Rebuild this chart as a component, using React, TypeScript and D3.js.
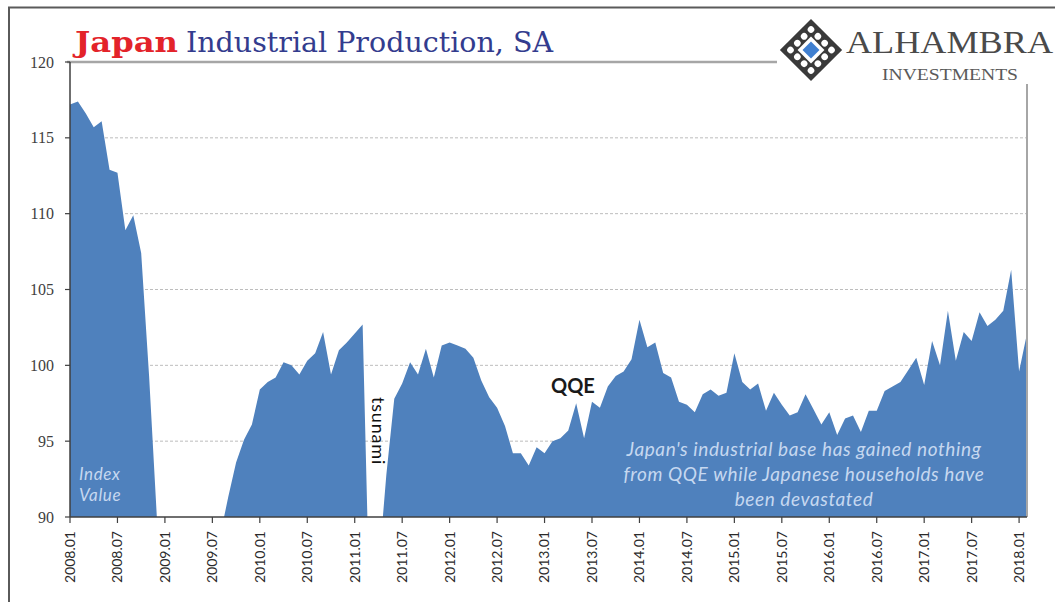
import React from "react";
import * as d3 from "d3";

const W = 1055;
const H = 602;

// Monthly index values, 2008.01 .. 2018.02 (values under 90 fall below the axis floor)
const values2008: number[] = [117.2, 117.4, 116.6, 115.7, 116.1, 112.9, 112.7, 108.9, 109.9, 107.4, 99.3, 89.8];
const values2009: number[] = [84.0, 76.0, 76.5, 79.0, 84.0, 86.0, 87.5, 88.8, 91.3, 93.6, 95.1, 96.1];
const values2010: number[] = [98.4, 98.9, 99.2, 100.2, 100.0, 99.4, 100.3, 100.8, 102.2, 99.4, 101.0, 101.5];
const values2011: number[] = [102.1, 102.7, 81.5, 86.5, 92.8, 97.8, 98.8, 100.2, 99.4, 101.1, 99.2, 101.3];
const values2012: number[] = [101.5, 101.3, 101.1, 100.5, 99.0, 97.9, 97.2, 96.0, 94.2, 94.2, 93.4, 94.6];
const values2013: number[] = [94.2, 95.0, 95.2, 95.7, 97.5, 95.2, 97.6, 97.2, 98.6, 99.3, 99.6, 100.4];
const values2014: number[] = [103.0, 101.2, 101.5, 99.5, 99.2, 97.6, 97.4, 96.9, 98.1, 98.4, 98.0, 98.2];
const values2015: number[] = [100.8, 98.9, 98.4, 98.8, 97.0, 98.2, 97.4, 96.7, 96.9, 98.1, 97.1, 96.1];
const values2016: number[] = [96.9, 95.4, 96.5, 96.7, 95.6, 97.0, 97.0, 98.3, 98.6, 98.9, 99.7, 100.5];
const values2017: number[] = [98.7, 101.6, 100.0, 103.6, 100.3, 102.2, 101.6, 103.5, 102.6, 103.0, 103.6, 106.3];
const values2018: number[] = [99.6, 102.1];

const values: number[] = [
  ...values2008, ...values2009, ...values2010, ...values2011, ...values2012,
  ...values2013, ...values2014, ...values2015, ...values2016, ...values2017, ...values2018,
];

const years: number[] = [2008, 2009, 2010, 2011, 2012, 2013, 2014, 2015, 2016, 2017, 2018];
const monthCodes: string[] = ["01", "02", "03", "04", "05", "06", "07", "08", "09", "10", "11", "12"];
const months: string[] = years
  .flatMap((yr) => monthCodes.map((m) => `${yr}.${m}`))
  .slice(0, values.length);

const xTickLabels: string[] = [
  "2008.01", "2008.07", "2009.01", "2009.07", "2010.01", "2010.07", "2011.01",
  "2011.07", "2012.01", "2012.07", "2013.01", "2013.07", "2014.01", "2014.07",
  "2015.01", "2015.07", "2016.01", "2016.07", "2017.01", "2017.07", "2018.01",
];
const yTicks: number[] = [90, 95, 100, 105, 110, 115, 120];
const gridTicks: number[] = [95, 100, 105, 110, 115];

const noteLines: string[] = [
  "Japan's industrial base has gained nothing",
  "from QQE while Japanese households have",
  "been devastated",
];

export default function App() {
  const left = 70;
  const right = 1027;
  const top = 62;
  const bottom = 517;

  const x = d3.scalePoint<string>().domain(months).range([left, right]);
  const y = d3.scaleLinear().domain([90, 120]).range([bottom, top]);

  const area = d3
    .area<number>()
    .x((_, i) => x(months[i]) as number)
    .y0(y(90))
    .y1((d) => y(d))
    .curve(d3.curveLinear);

  const axisColor = "#3f3f3f";
  const sans = "Lato, 'Open Sans', sans-serif";
  const noteColor = "#c6d8f0";

  // logo hole grid
  const holePos = [-14.5, -4.8, 4.8, 14.5];
  const holes: [number, number][] = [];
  holePos.forEach((a) =>
    holePos.forEach((b) => {
      if (Math.abs(a) < 10 && Math.abs(b) < 10) return;
      holes.push([a, b]);
    })
  );

  return (
    <svg
      width={W}
      height={H}
      viewBox={`0 0 ${W} ${H}`}
      style={{ position: "absolute", left: 0, top: 0, background: "#fff" }}
    >
      <defs>
        <clipPath id="plotClip">
          <rect x={left} y={top} width={right - left} height={bottom - top} />
        </clipPath>
      </defs>
      <rect x={0} y={0} width={W} height={H} fill="#fff" />

      {/* outer frame */}
      <line x1={8} x2={W} y1={7.5} y2={7.5} stroke="#5a5a5a" strokeWidth={2} />
      <line x1={9} x2={9} y1={7} y2={H} stroke="#5a5a5a" strokeWidth={2} />

      {/* gridlines */}
      {gridTicks.map((t) => (
        <line
          key={t}
          x1={left}
          x2={right}
          y1={y(t)}
          y2={y(t)}
          stroke="#bdbdbd"
          strokeWidth={1}
          strokeDasharray="3,2"
        />
      ))}

      {/* area */}
      <path d={area(values) || ""} fill="#4f81bd" clipPath="url(#plotClip)" />

      {/* title underline / top rule */}
      <line x1={67} x2={777} y1={top} y2={top} stroke="#a6a6a6" strokeWidth={2.5} />
      {/* right border */}
      <line x1={right} x2={right} y1={84} y2={bottom} stroke="#a6a6a6" strokeWidth={2} />

      {/* y axis */}
      <line x1={left} x2={left} y1={top} y2={bottom} stroke={axisColor} strokeWidth={1.5} />
      {yTicks.map((t) => (
        <g key={t}>
          <line x1={left - 5} x2={left} y1={y(t)} y2={y(t)} stroke={axisColor} strokeWidth={1.2} />
          <text
            x={54}
            y={y(t)}
            dy="0.35em"
            textAnchor="end"
            fontFamily="'Liberation Serif', 'DejaVu Serif', serif"
            fontSize={16}
            fill="#404040"
          >
            {t}
          </text>
        </g>
      ))}

      {/* x axis */}
      <line x1={left} x2={right} y1={bottom} y2={bottom} stroke={axisColor} strokeWidth={1.5} />
      {xTickLabels.map((lab) => {
        const xx = x(lab) as number;
        return (
          <g key={lab}>
            <line x1={xx} x2={xx} y1={bottom} y2={bottom + 6} stroke={axisColor} strokeWidth={1.2} />
            <text
              transform={`translate(${xx},${bottom + 14}) rotate(-90)`}
              dy="0.35em"
              textAnchor="end"
              fontFamily={sans}
              fontSize={14}
              fill="#2a2a2a"
            >
              {lab}
            </text>
          </g>
        );
      })}

      {/* title */}
      <text
        x={75}
        y={52}
        fontFamily="'DejaVu Serif', 'Liberation Serif', serif"
        fontWeight="bold"
        fontSize={28}
        fill="#e3232a"
        textLength={103}
        lengthAdjust="spacingAndGlyphs"
      >
        Japan
      </text>
      <text
        x={186}
        y={52}
        fontFamily="'DejaVu Serif', 'Liberation Serif', serif"
        fontSize={28}
        fill="#333c8e"
        textLength={367}
        lengthAdjust="spacingAndGlyphs"
      >
        Industrial Production, SA
      </text>

      {/* logo */}
      <g transform="translate(811,50) rotate(45)">
        <rect x={-22} y={-22} width={44} height={44} fill="#3a3a3a" />
        {holes.map(([a, b], i) => (
          <circle key={i} cx={a} cy={b} r={3.3} fill="#fff" />
        ))}
        <rect x={-9.5} y={-9.5} width={19} height={19} fill="#fff" />
        <rect x={-6} y={-6} width={12} height={12} fill="#3f7fd0" />
      </g>
      <text
        x={846}
        y={53}
        fontFamily="'Liberation Serif', 'DejaVu Serif', serif"
        fontSize={32}
        fill="#4a4a4a"
        textLength={207}
        lengthAdjust="spacingAndGlyphs"
      >
        ALHAMBRA
      </text>
      <text
        x={882}
        y={80}
        fontFamily="'Liberation Serif', 'DejaVu Serif', serif"
        fontSize={16}
        fill="#5a5a5a"
        textLength={136}
        lengthAdjust="spacingAndGlyphs"
      >
        INVESTMENTS
      </text>

      {/* annotations */}
      <text x={79} y={480} fontFamily={sans} fontStyle="italic" fontSize={17} letterSpacing={0.6} fill={noteColor}>
        Index
      </text>
      <text x={79} y={501} fontFamily={sans} fontStyle="italic" fontSize={17} letterSpacing={0.6} fill={noteColor}>
        Value
      </text>

      <text
        transform="translate(372,397) rotate(90)"
        fontFamily={sans}
        fontSize={18}
        letterSpacing={0.8}
        fill="#111"
      >
        tsunami
      </text>

      <text x={551} y={393} fontFamily={sans} fontWeight="bold" fontSize={20} fill="#1a1a1a">
        QQE
      </text>

      {noteLines.map((ln, i) => (
        <text
          key={i}
          x={804}
          y={456 + i * 25}
          textAnchor="middle"
          fontFamily={sans}
          fontStyle="italic"
          fontSize={19}
          letterSpacing={0.6}
          fill={noteColor}
        >
          {ln}
        </text>
      ))}
    </svg>
  );
}
